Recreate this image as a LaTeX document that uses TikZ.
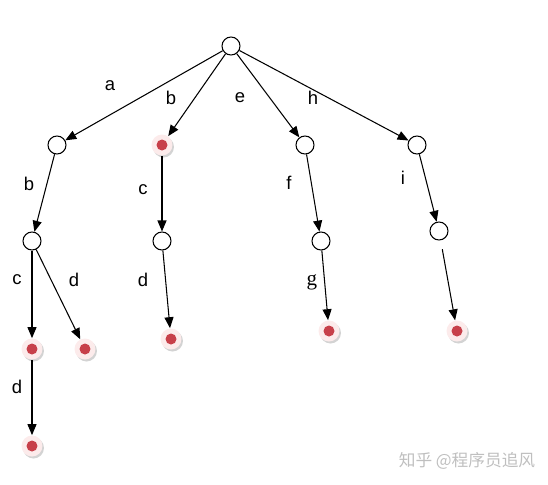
\documentclass[tikz,border=0pt]{standalone}
\usepackage{fontspec}
\setmainfont{Liberation Sans}
\newfontfamily\serifg{Liberation Serif}
\newfontfamily\cjk{Noto Sans CJK SC}
\usetikzlibrary{arrows.meta,shadows}
\definecolor{dotred}{rgb}{0.78,0.25,0.29}
\definecolor{ringpink}{rgb}{0.99,0.92,0.92}
\tikzset{
  plain/.style={draw,circle,line width=0.6pt,minimum size=0.36cm,inner sep=0pt,fill=white},
  final/.style={circle,minimum size=0.42cm,inner sep=0pt,fill=ringpink,
    drop shadow={shadow xshift=0.03cm,shadow yshift=-0.04cm,opacity=0.35},
    path picture={\fill[dotred] (path picture bounding box.center) circle (0.11cm);}},
  edge/.style={line width=0.6pt,-{Triangle[length=0.22cm,width=0.18cm]}},
  lbl/.style={font=\fontsize{10.5}{12}\selectfont}
}
\begin{document}
\begin{tikzpicture}[x=0.02cm,y=-0.02cm]
  \useasboundingbox (0,0) rectangle (548,484);

  % Marking the root
  \node[plain] (root) at (231,46) {};

  % Marking level one
  \node[plain] (na)  at (57,145)  {};
  \node[final] (nb)  at (162,145) {};
  \node[plain] (ne)  at (305,145) {};
  \node[plain] (nh)  at (417,145) {};

  % Marking level two
  \node[plain] (nab) at (32,241)  {};
  \node[plain] (nbc) at (162,241) {};
  \node[plain] (nef) at (321,241) {};
  \node[plain] (nhi) at (439,231) {};

  % Marking level three
  \node[final] (nabc) at (32,349)  {};
  \node[final] (nabd) at (85,349)  {};
  \node[final] (nbcd) at (171,339) {};
  \node[final] (nefg) at (329,331) {};
  \node[final] (nhix) at (457,331) {};

  % Marking level four
  \node[final] (nabcd) at (32,446) {};

  % Drawing edges
  \draw[edge] (root) -- (na);
  \draw[edge] (root) -- (nb);
  \draw[edge] (root) -- (ne);
  \draw[edge] (root) -- (nh);
  \draw[edge] (na) -- (nab);
  \draw[edge] (nb) -- (nbc);
  \draw[edge] (ne) -- (nef);
  \draw[edge] (nh) -- (nhi);
  \draw[edge] (nab) -- (nabc);
  \draw[edge] (nab) -- (nabd);
  \draw[edge] (nbc) -- (nbcd);
  \draw[edge] (nef) -- (nefg);
  \draw[edge,shorten <=0.18cm] (nhi) -- (nhix);
  \draw[edge] (nabc) -- (nabcd);

  % Marking edge letters
  \node[lbl] (la)   at (110,86)  {a};
  \node[lbl] (lb)   at (171,98)  {b};
  \node[lbl] (le)   at (240,98)  {e};
  \node[lbl] (lh)   at (313,98)  {h};
  \node[lbl] (lab)  at (29,184)  {b};
  \node[lbl] (lbc)  at (143,190) {c};
  \node[lbl] (lef)  at (289,183) {f};
  \node[lbl] (lhi)  at (403,178) {i};
  \node[lbl] (labc) at (17,280)  {c};
  \node[lbl] (labd) at (74,280)  {d};
  \node[lbl] (lbcd) at (143,280) {d};
  \node[lbl,font=\serifg\fontsize{12}{14}\selectfont] (lefg) at (312,282) {g};
  \node[lbl] (lcd)  at (17,387)  {d};

  % Marking the watermark
  \node[text=gray!50,font=\cjk\fontsize{9.5}{11}\selectfont] (mark) at (467,461) {知乎 @程序员追风};
\end{tikzpicture}
\end{document}
